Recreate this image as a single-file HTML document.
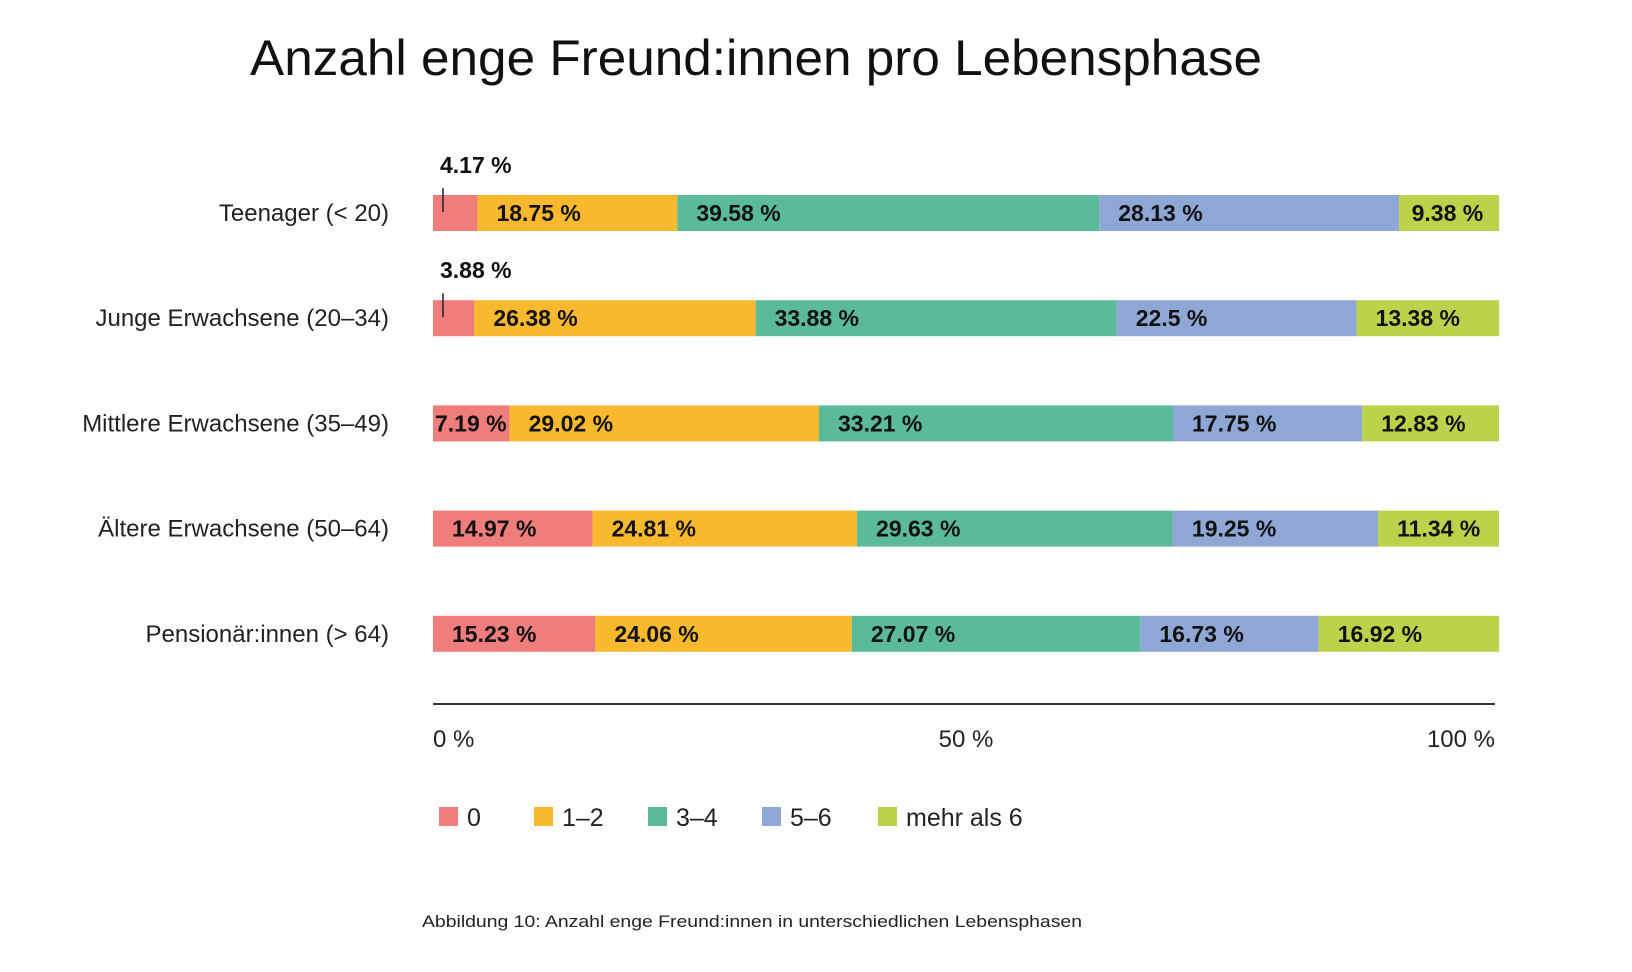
<!DOCTYPE html>
<html><head><meta charset="utf-8"><style>
html,body{margin:0;padding:0;background:#fff;}
svg{display:block;font-family:"Liberation Sans Narrow","Liberation Sans",sans-serif;}
</style></head><body>
<svg id="chart" width="1632" height="972" viewBox="0 0 1632 972">
<text x="250" y="75" font-size="50" fill="#111" textLength="1012" lengthAdjust="spacingAndGlyphs">Anzahl enge Freund:innen pro Lebensphase</text>
<g id="bars"></g>
<line x1="433" y1="704" x2="1495" y2="704" stroke="#333" stroke-width="2"/>
<g id="ticks"></g>
<g id="legend"></g>
<text x="422" y="927" font-size="17" fill="#222" textLength="660" lengthAdjust="spacingAndGlyphs">Abbildung 10: Anzahl enge Freund:innen in unterschiedlichen Lebensphasen</text>
</svg>
<script>
const categories = ["Teenager (< 20)","Junge Erwachsene (20–34)","Mittlere Erwachsene (35–49)","Ältere Erwachsene (50–64)","Pensionär:innen (> 64)"];
const seriesNames = ["0","1–2","3–4","5–6","mehr als 6"];
const s0 = [4.17,3.88,7.19,14.97,15.23];
const s12 = [18.75,26.38,29.02,24.81,24.06];
const s34 = [39.58,33.88,33.21,29.63,27.07];
const s56 = [28.13,22.5,17.75,19.25,16.73];
const s6p = [9.38,13.38,12.83,11.34,16.92];
const labels0 = ["4.17 %","3.88 %","7.19 %","14.97 %","15.23 %"];
const labels12 = ["18.75 %","26.38 %","29.02 %","24.81 %","24.06 %"];
const labels34 = ["39.58 %","33.88 %","33.21 %","29.63 %","27.07 %"];
const labels56 = ["28.13 %","22.5 %","17.75 %","19.25 %","16.73 %"];
const labels6p = ["9.38 %","13.38 %","12.83 %","11.34 %","16.92 %"];
const tickValues = [0,50,100];
const tickLabels = ["0 %","50 %","100 %"];

const colors = ["#ee7d7c","#f9b92e","#5bba9a","#8fa7d5","#bcd24a"];
const series = [s0,s12,s34,s56,s6p];
const seriesLabels = [labels0,labels12,labels34,labels56,labels6p];
const NS="http://www.w3.org/2000/svg";
const X0=433, X1=1499;
const xScale = v => X0 + v/100*(X1-X0);
const rowY = i => 195 + i*105.2;
const BH=36;
function mk(tag, attrs, parent){const e=document.createElementNS(NS,tag);for(const k in attrs)e.setAttribute(k,attrs[k]);parent.appendChild(e);return e;}
const gB=document.getElementById('bars');
categories.forEach((c,i)=>{
  const y=rowY(i);
  const t=mk('text',{x:389,y:y+BH/2+8,'font-size':24,'text-anchor':'end',fill:'#222'},gB);
  t.textContent=c;
  
  
  let cum=0;
  series.forEach((s,k)=>{
    const v=s[i];
    const xa=xScale(cum), xb=xScale(cum+v); cum+=v;
    const r=mk('rect',{x:xa,y:y,width:xb-xa,height:BH,fill:colors[k]},gB);
    
    
    const w=xb-xa;
    const lbl=seriesLabels[k][i];
    let tx, ty=y+BH/2+8;
    if(w<60){
      tx=xa+7; ty=y-22;
      const ln=mk('line',{x1:xa+10,y1:y-7,x2:xa+10,y2:y+17,stroke:'#222','stroke-width':1.5},gB);
      
      
    } else if(w<110){ tx=xa+Math.max(2,(w-75)/2); }
    else { tx=xa+19; }
    const vt=mk('text',{x:tx,y:ty,'font-size':23,'font-weight':'bold',fill:'#111'},gB);
    vt.textContent=lbl;
    
    
  });
});
const gT=document.getElementById('ticks');
tickValues.forEach((v,i)=>{
  const anchor=i===0?'start':(i===tickValues.length-1?'end':'middle');
  const t=mk('text',{x:xScale(v)-(i===tickValues.length-1?4:0),y:747,'font-size':24,'text-anchor':anchor,fill:'#222'},gT);
  t.textContent=tickLabels[i];
  
  
});
const gL=document.getElementById('legend');
const legX=[439,534,648,762,878];
seriesNames.forEach((n,k)=>{
  const r=mk('rect',{x:legX[k],y:807,width:19,height:19,fill:colors[k]},gL);
  
  
  const t=mk('text',{x:legX[k]+28,y:826,'font-size':25,fill:'#222'},gL);
  t.textContent=n;
  
  
});
</script>
</body></html>
